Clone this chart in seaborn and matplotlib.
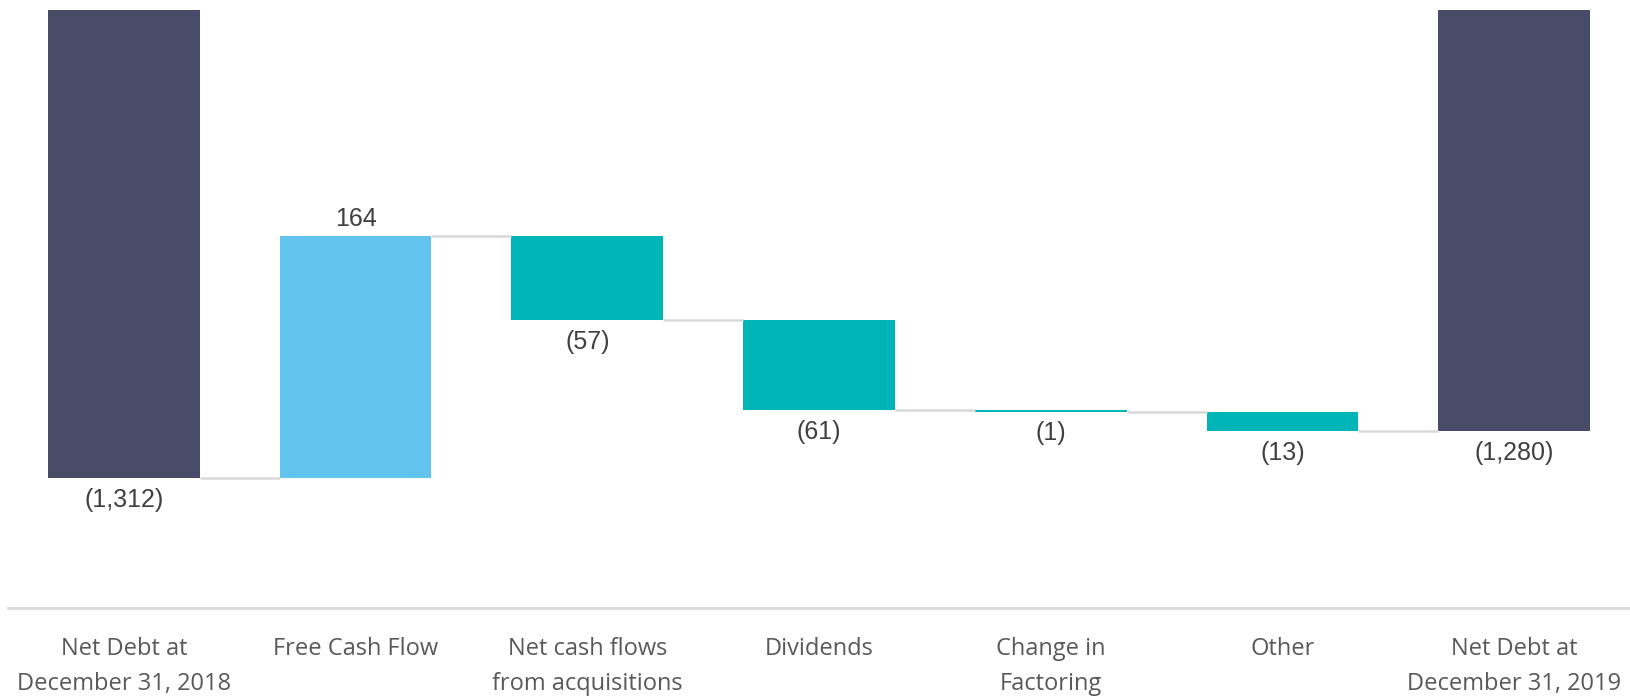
import matplotlib
matplotlib.use("Agg")
import matplotlib.pyplot as plt
import seaborn as sns
import pandas as pd
import numpy as np

categories = ["Net Debt at\nDecember 31, 2018", "Free Cash Flow", "Net cash flows\nfrom acquisitions",
              "Dividends", "Change in\nFactoring", "Other", "Net Debt at\nDecember 31, 2019"]
values = [-1312, 164, -57, -61, -1, -13, -1280]
value_labels = ["(1,312)", "164", "(57)", "(61)", "(1)", "(13)", "(1,280)"]
kinds = ["total", "increase", "decrease", "decrease", "decrease", "decrease", "total"]

kind_colors = {"total": "#484C68", "increase": "#62C4EC", "decrease": "#00B5B8"}

# waterfall geometry derived from the values
bottoms = []
running = 0.0
levels = []
for v, k in zip(values, kinds):
    if k == "total":
        bottoms.append(0.0)
        running = v
    else:
        bottoms.append(running)
        running = running + v
    levels.append(running)

df = pd.DataFrame({"category": categories, "value": values, "bottom": bottoms, "kind": kinds})

sns.set_theme(style="white")
plt.rcParams["font.family"] = ["Liberation Sans", "DejaVu Sans"]

fig = plt.figure(figsize=(16.30, 6.97), dpi=100)
ax = fig.add_axes([8 / 1630, 89 / 697, 1622 / 1630, 597.6 / 697])

sns.barplot(data=df, x="category", y="value", bottom=df["bottom"].values, width=0.655,
            color="#484C68", ax=ax, linewidth=0, saturation=1)

for patch, k in zip(ax.patches, kinds):
    patch.set_facecolor(kind_colors[k])
    patch.set_edgecolor("none")

ax.set_xlim(-0.5, len(categories) - 0.5)
ax.set_ylim(-1400, -995)

# connectors
half = 0.655 / 2
for i in range(len(categories) - 1):
    ax.plot([i + half, i + 1 - half], [levels[i], levels[i]], color="#d9d9d9", lw=1.8,
            solid_capstyle="butt", zorder=1)

# value labels
for i, (v, k, lab) in enumerate(zip(values, kinds, value_labels)):
    top = max(bottoms[i], bottoms[i] + v)
    low = min(bottoms[i], bottoms[i] + v)
    if k == "increase":
        ax.annotate(lab, (i, top), xytext=(0, 4), textcoords="offset points",
                    ha="center", va="bottom", fontsize=18, color="#404040")
    else:
        ax.annotate(lab, (i, low), xytext=(0, -7), textcoords="offset points",
                    ha="center", va="top", fontsize=18, color="#404040")

ax.set_xlabel("")
ax.set_ylabel("")
ax.set_yticks([])
ax.tick_params(axis="x", length=0, pad=21)
for t in ax.get_xticklabels():
    t.set_fontfamily(["Open Sans", "DejaVu Sans"])
    t.set_fontsize(17)
    t.set_color("#595959")
    t.set_linespacing(1.62)

for s in ["top", "left", "right"]:
    ax.spines[s].set_visible(False)
ax.spines["bottom"].set_color("#d9d9d9")
ax.spines["bottom"].set_linewidth(2)

fig.savefig("out.png", dpi=100)
